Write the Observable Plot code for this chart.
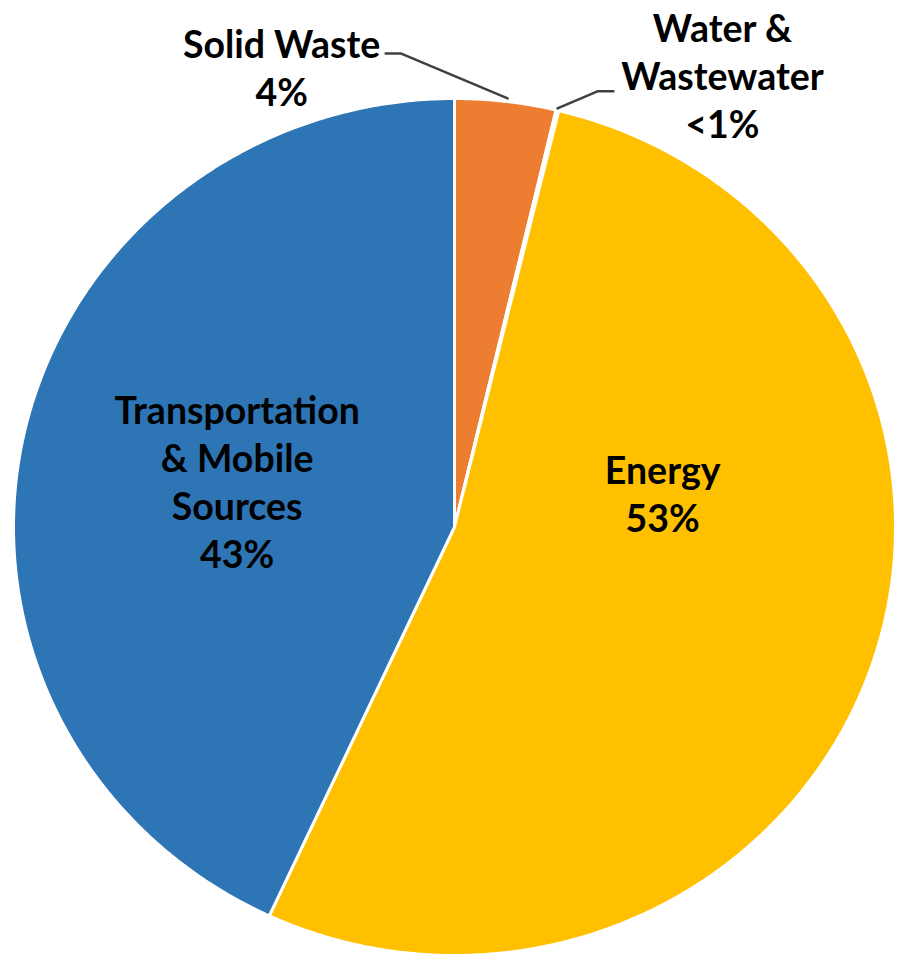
<!DOCTYPE html>
<html><head><meta charset="utf-8">
<script src="https://cdn.jsdelivr.net/npm/d3@7"></script>
<script src="https://cdn.jsdelivr.net/npm/@observablehq/plot@0.6"></script>
<style>body{margin:0;background:#fff} svg{display:block}</style>
</head><body><div id="chart"></div>
<script>
// ---- data ----
const categories = ["Solid Waste", "Water & Wastewater", "Energy", "Transportation & Mobile Sources"];
const shares = [3.7, 0.1, 53.1, 43.1];
const shareLabels = ["4%", "<1%", "53%", "43%"];
const displayNames = ["Solid Waste", "Water &\nWastewater", "Energy", "Transportation\n& Mobile\nSources"];
const colors = ["#ED7D31", "#A5A5A5", "#FFC000", "#2E75B6"];

// ---- layout ----
const W = 897, H = 956;
const X_RANGE = [13, 895], Y_RANGE = [98, 955];
const kx = (X_RANGE[1] - X_RANGE[0]) / 2, ky = (Y_RANGE[1] - Y_RANGE[0]) / 2;
const labelLayout = {
  "Solid Waste": {r: 1, dx: -224, dy: -35, leader: [[2, -3], [-105, -48], [-120, -48]]},
  "Water & Wastewater": {r: 1, dx: 165, dy: -36, leader: [[0, -2], [40, -19], [56, -19]]},
  "Energy": {r: 0.5, dx: 0, dy: -105},
  "Transportation & Mobile Sources": {r: 0.5, dx: -2, dy: 0}
};

const total = d3.sum(shares);
let cum = 0;
const slices = categories.map((c, i) => {
  const a0 = cum / total * 2 * Math.PI; cum += shares[i];
  const a1 = cum / total * 2 * Math.PI;
  return {c, i, a0, a1, mid: (a0 + a1) / 2};
});
const poly = [];
for (const s of slices) {
  poly.push({c: s.c, x: 0, y: 0});
  const n = Math.max(2, Math.ceil((s.a1 - s.a0) / (Math.PI / 360)));
  for (let k = 0; k <= n; k++) {
    const a = s.a0 + (s.a1 - s.a0) * k / n;
    poly.push({c: s.c, x: Math.sin(a), y: -Math.cos(a)});
  }
  poly.push({c: s.c, x: 0, y: 0});
}
const labels = slices.map(s => {
  const L = labelLayout[s.c];
  return {c: s.c,
    x: L.r * Math.sin(s.mid) + L.dx / kx,
    y: -L.r * Math.cos(s.mid) + L.dy / ky,
    text: displayNames[s.i] + "\n" + shareLabels[s.i]};
});
const leaders = [];
for (const s of slices) {
  const L = labelLayout[s.c];
  if (!L.leader) continue;
  const ax = Math.sin(s.mid), ay = -Math.cos(s.mid);
  for (const [ox, oy] of L.leader) leaders.push({c: s.c, x: ax + ox / kx, y: ay + oy / ky});
}

const chart = Plot.plot({
  width: W, height: H, margin: 0,
  style: {background: "white"},
  x: {domain: [-1, 1], range: X_RANGE, axis: null},
  y: {domain: [-1, 1], range: Y_RANGE, axis: null},
  color: {domain: categories, range: colors},
  marks: [
    Plot.line(poly, {x: "x", y: "y", z: "c", fill: "c", stroke: "white", strokeWidth: 3, strokeLinejoin: "round"}),
    Plot.line(leaders, {x: "x", y: "y", z: "c", stroke: "#404040", strokeWidth: 2.5}),
    Plot.text(labels, {x: "x", y: "y", text: "text", fontSize: 37.5, fontWeight: "bold",
      fontFamily: "Lato", lineHeight: 1.28, fill: "black"})
  ]
});
document.getElementById("chart").appendChild(chart);
</script>
</body></html>
